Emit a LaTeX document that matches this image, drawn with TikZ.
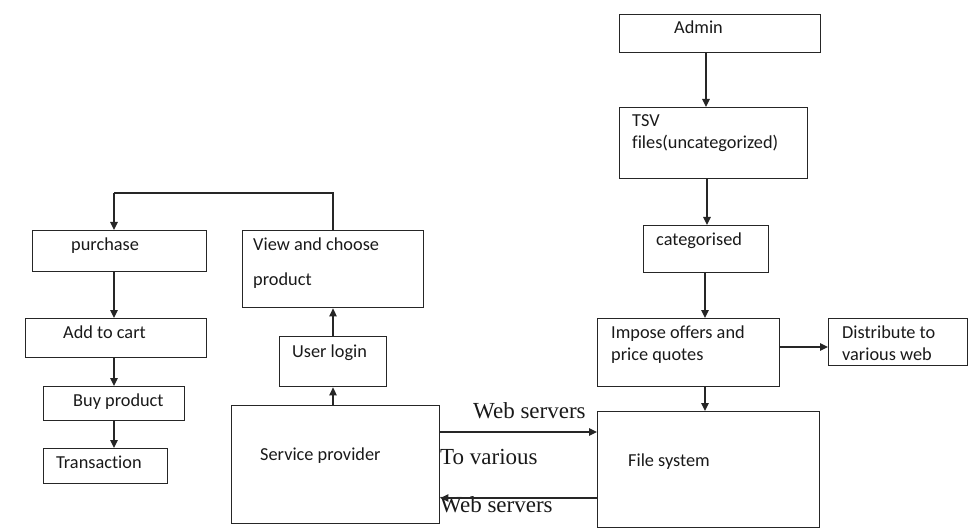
\documentclass[tikz,border=0pt]{standalone}
\usepackage{fontspec}
\setmainfont{Carlito}[Ligatures=NoCommon]
\newfontfamily\timesf{Liberation Serif}
\usetikzlibrary{arrows.meta}
\tikzset{
  box/.style={draw=black!85, line width=1.4pt, rectangle, inner sep=0pt, anchor=north west},
  lbl/.style={anchor=base west, inner sep=0pt, font=\fontsize{18.3}{22}\selectfont, text=black!90},
  tlbl/.style={anchor=base west, inner sep=0pt, font=\timesf\fontsize{23}{27}\selectfont, text=black!90},
  arr/.style={draw=black!85, line width=1.3pt, -{Triangle[length=8pt,width=7.5pt]}},
  ln/.style={draw=black!85, line width=1.3pt}
}
\newcommand{\bx}[5]{\node[box, minimum width={#4-#2}, minimum height={#5-#3}] (#1) at (#2,#3) {};}
\begin{document}
\begin{tikzpicture}[x=1pt,y=-1pt]
\useasboundingbox (0,0) rectangle (973,529);
% boxes: name, left, top, right, bottom
\bx{admin}{619}{14}{820}{52}
\bx{tsv}{619}{107}{807}{178}
\bx{cat}{643}{225}{768}{272}
\bx{impose}{597}{318}{779}{386}
\bx{dist}{828}{318}{967}{365}
\bx{fs}{597}{411}{819}{527}
\bx{purchase}{32}{230}{206}{271}
\bx{view}{242}{230}{423}{307}
\bx{cart}{25}{318}{206}{357}
\bx{buy}{43}{386}{184}{420}
\bx{trans}{43}{448}{167}{483}
\bx{login}{279}{336}{386}{386}
\bx{sp}{231}{405}{439}{523}
% labels
\node[lbl] (tadmin) at (674,34) {Admin};
\node[lbl] (ttsvA) at (632,127) {TSV};
\node[lbl] (ttsvB) at (632,149) {files(uncategorized)};
\node[lbl] (tcat) at (656,245) {categorised};
\node[lbl] (timpA) at (611,338) {Impose offers and};
\node[lbl] (timpB) at (611,360) {price quotes};
\node[lbl] (tdistA) at (842,338) {Distribute to};
\node[lbl] (tdistB) at (842,360) {various web};
\node[lbl] (tfs) at (628,466) {File system};
\node[lbl] (tpur) at (71,250) {purchase};
\node[lbl] (tviewA) at (253,251) {View and choose};
\node[lbl] (tviewB) at (253,285) {product};
\node[lbl] (tcart) at (63,338) {Add to cart};
\node[lbl] (tbuy) at (73,406) {Buy product};
\node[lbl] (ttrans) at (56,468) {Transaction};
\node[lbl] (tlogin) at (292,357) {User login};
\node[lbl] (tsp) at (260,460) {Service provider};
\node[tlbl] (tws1) at (473,418) {Web servers};
\node[tlbl] (tvar) at (440,464) {To various};
\node[tlbl] (tws2) at (440,512) {Web servers};
% connectors
\draw[arr] (admin.south -| 706,0) -- (tsv.north -| 706,0);
\draw[arr] (tsv.south -| 707,0) -- (cat.north -| 707,0);
\draw[arr] (cat.south -| 705,0) -- (impose.north -| 705,0);
\draw[arr] (impose.south -| 705,0) -- (fs.north -| 705,0);
\draw[arr] (impose.east |- 0,347) -- (dist.west |- 0,347);
\draw[arr] (sp.north -| 333,0) -- (login.south -| 333,0);
\draw[arr] (login.north -| 333,0) -- (view.south -| 333,0);
\coordinate (loopR) at (333,193);
\coordinate (loopL) at (114,193);
\draw[ln] (view.north -| loopR) -- (loopR) -- (loopL);
\draw[arr] (loopL) -- (purchase.north -| loopL);
\draw[arr] (purchase.south -| 114,0) -- (cart.north -| 114,0);
\draw[arr] (cart.south -| 114,0) -- (buy.north -| 114,0);
\draw[arr] (buy.south -| 114,0) -- (trans.north -| 114,0);
\draw[arr] (sp.east |- 0,432) -- (fs.west |- 0,432);
\draw[arr] (fs.west |- 0,498) -- (sp.east |- 0,498);
\end{tikzpicture}
\end{document}
